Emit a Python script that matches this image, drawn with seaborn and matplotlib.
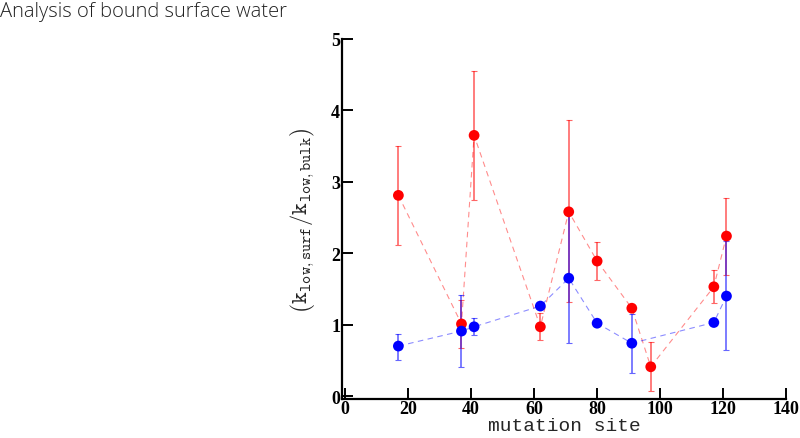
import seaborn as sns
import matplotlib.pyplot as plt
import pandas as pd
import numpy as np

# data
site = [17, 37, 41, 62, 71, 80, 91, 97, 117, 121]
red_y = [2.81, 1.01, 3.65, 0.97, 2.58, 1.89, 1.23, 0.41, 1.53, 2.24]
red_lo = [2.12, 0.68, 2.75, 0.79, 1.32, 1.63, 1.23, 0.07, 1.30, 1.70]
red_hi = [3.50, 1.35, 4.55, 1.16, 3.86, 2.16, 1.23, 0.76, 1.76, 2.78]

blue_site = [17, 37, 41, 62, 71, 80, 91, 117, 121]
blue_y = [0.70, 0.91, 0.97, 1.26, 1.65, 1.02, 0.74, 1.03, 1.40]
blue_lo = [0.51, 0.41, 0.85, 1.26, 0.74, 1.02, 0.33, 1.03, 0.64]
blue_hi = [0.87, 1.41, 1.09, 1.26, 2.60, 1.02, 1.15, 1.03, 2.17]

red = pd.DataFrame({'site': site, 'y': red_y, 'lo': red_lo, 'hi': red_hi})
blue = pd.DataFrame({'site': blue_site, 'y': blue_y, 'lo': blue_lo, 'hi': blue_hi})

sns.set_style('ticks')
plt.rcParams['mathtext.fontset'] = 'cm'
fig = plt.figure(figsize=(8, 4.39), dpi=100)
ax = fig.add_axes([0.427, 0.089, 0.556, 0.820])

for df, col in [(red, '#ff0000'), (blue, '#0000ff')]:
    sns.lineplot(data=df, x='site', y='y', ax=ax, color=col, lw=0.8,
                 linestyle=(0, (5, 4)), alpha=0.45, sort=False)
    ax.errorbar(df['site'], df['y'],
                yerr=[df['y'] - df['lo'], df['hi'] - df['y']],
                fmt='none', ecolor=col, elinewidth=1.2, capsize=2.5,
                capthick=0.8, alpha=0.6)
    sns.scatterplot(data=df, x='site', y='y', ax=ax, color=col, s=60,
                    edgecolor='none', zorder=5)

ax.set_xlim(-1, 140)
ax.set_ylim(-0.04, 5)
ax.set_xticks(range(0, 141, 20))
ax.set_yticks(range(0, 6))
sns.despine(ax=ax)
for s in ['left', 'bottom']:
    ax.spines[s].set_linewidth(1.6)
    ax.spines[s].set_color('black')
ax.tick_params(direction='in', length=8, width=1.4, colors='black')
for lab in ax.get_xticklabels() + ax.get_yticklabels():
    lab.set_fontfamily('Liberation Serif')
    lab.set_fontweight('bold')
    lab.set_fontsize(13)
ax.tick_params(axis='x', pad=1)
ax.tick_params(axis='y', pad=1)

ax.set_xlabel('mutation site', fontfamily='Liberation Mono', fontsize=14, labelpad=0)
ax.set_ylabel(r'$\left(\mathtt{k_{low,surf}}/\mathtt{k_{low,bulk}}\right)$',
              fontsize=16, labelpad=10)

fig.text(0.0, 0.995, 'Analysis of bound surface water', fontfamily='Open Sans',
         fontweight='light', fontsize=14.5, va='top', ha='left', color='#222222')

fig.savefig('out.png', dpi=100)
